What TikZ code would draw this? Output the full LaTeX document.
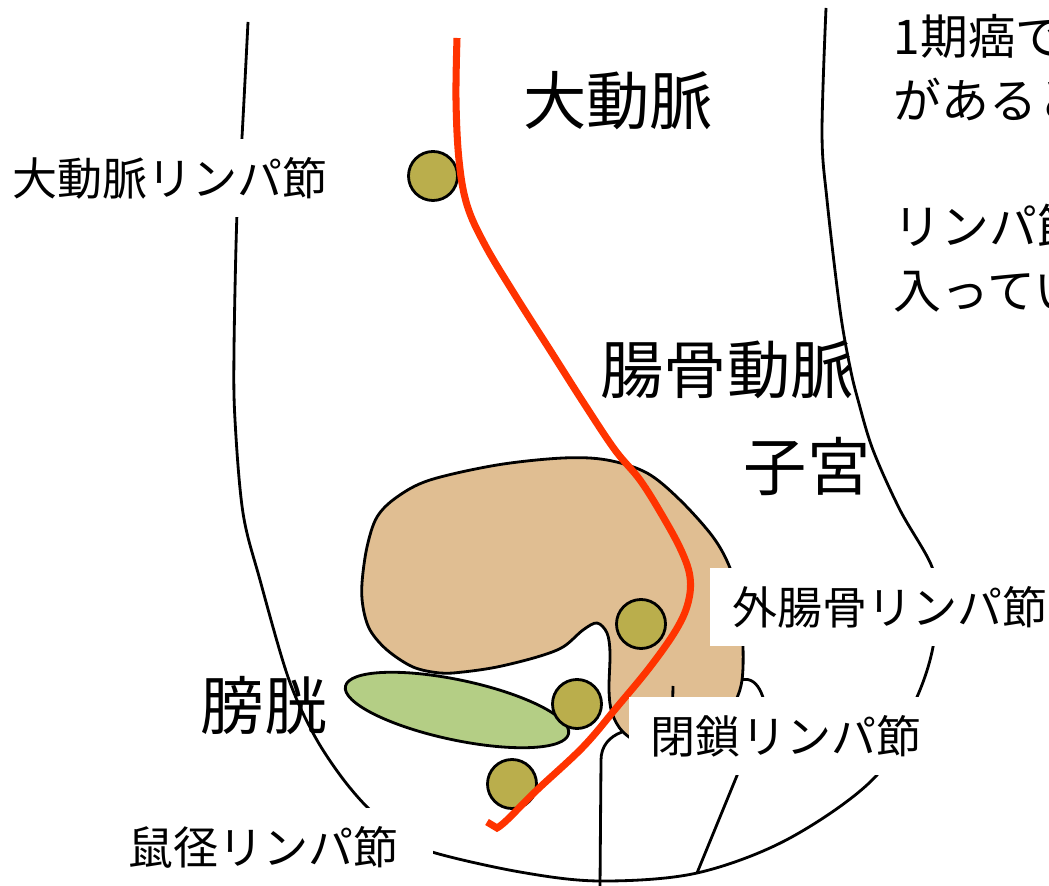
\documentclass[tikz,border=0pt]{standalone}
\usepackage{fontspec}
\setmainfont{Noto Sans CJK JP}
\definecolor{arteryred}{RGB}{255, 51, 0}
\definecolor{uterustan}{RGB}{224, 190, 146}
\definecolor{bladdergreen}{RGB}{180, 206, 133}
\definecolor{lymphgold}{RGB}{186, 174, 76}

\tikzset{
  outline/.style={black, line width=0.8pt},
  organ/.style={draw=black, line width=0.8pt},
  lymphnode/.style={organ, fill=lymphgold},
  artery/.style={arteryred, line width=2pt},
  tag/.style={fill=white, inner xsep=0.22cm, inner ysep=0pt, minimum height=0.78cm,
              font=\fontsize{12.8}{15}\selectfont},
  title/.style={inner sep=0pt, font=\fontsize{18}{22}\selectfont},
}

\begin{document}
\begin{tikzpicture}[x=0.01cm, y=-0.01cm]
            \useasboundingbox (0,0) rectangle (1049,886);
            \clip (0,0) rectangle (1049,886);
            % pelvis outline
            \draw[outline] plot[smooth, tension=0.55] coordinates {
                (248,22) (242,137) (237,213) (234,350) (235,420) (243,513) (260,580) (288,677)
                (313,733) (340,775) (368,808) (400,835) (432,852) (520,872) (600,881) (697,873)
                (790,838) (877,775) (917,697) (933,647) (935,605) (932,567) (900,510) (873,450)
                (858,400) (850,367) (840,310) (827,200) (822,133) (826,8)};
            \draw[outline] (600,886) -- (601,760) to[out=90, in=200] (622,732);
            \draw[outline] (697,873) -- (745,756);
            \draw[outline] (741,680) to[out=15, in=95] (768,725);
            % uterus
            \filldraw[organ, fill=uterustan] plot[smooth cycle, tension=0.55] coordinates {
                (362,583) (367,547) (377,517) (397,497) (430,480) (497,465) (563,458) (607,460)
                (647,473) (680,500) (713,537) (730,568) (740,605) (743,647) (742,680) (735,702)
                (715,735) (680,748) (645,745) (623,732) (612,713) (609,690) (610,653) (607,633)
                (597,623) (583,630) (563,647) (537,657) (497,667) (463,672) (440,673) (413,667)
                (387,650) (370,630) (363,607)};
            \draw[outline] (673,686) -- (672,730);
            % bladder
            \filldraw[organ, fill=bladdergreen] (457,710) circle [x radius=1.14cm, y radius=0.30cm, rotate=-12];
            % lymph nodes
            \filldraw[lymphnode] (433,176) circle (0.245cm);
            \filldraw[lymphnode] (641,624) circle (0.245cm);
            \filldraw[lymphnode] (577,704) circle (0.245cm);
            \filldraw[lymphnode] (512,784) circle (0.245cm);
            % aorta and iliac artery
            \draw[artery] plot[smooth, tension=0.6] coordinates {
                (457,38) (456,100) (459,160) (467,205) (485,245) (515,295) (550,350) (585,405)
                (615,450) (640,480) (662,515) (681,550) (690,577) (688,603) (676,630) (650,667)
                (617,707) (583,747) (537,790) (507,820) (497,828)} -- (487,822);
            % labels
            \node[tag] (aortaln)     at (170,178) {大動脈リンパ節};
            \node[tag] (extiliacln)  at (890,607) {外腸骨リンパ節};
            \node[tag] (obturatorln) at (786,736) {閉鎖リンパ節};
            \node[tag, anchor=west, text width=2.82cm, align=left] (inguinalln) at (106,847) {鼠径リンパ節};
            \node[title] (aorta)   at (618,101) {大動脈};
            \node[title] (iliac)   at (727,370) {腸骨動脈};
            \node[title] (uterus)  at (807,467) {子宮};
            \node[title] (bladder) at (264,706) {膀胱};
            \node[inner sep=0pt, anchor=north west, align=left, font=\fontsize{13.6}{18}\selectfont]
                (note) at (893,14) {1期癌で\\があると\\\mbox{}\\リンパ節\\入ってい};
\end{tikzpicture}
\end{document}
